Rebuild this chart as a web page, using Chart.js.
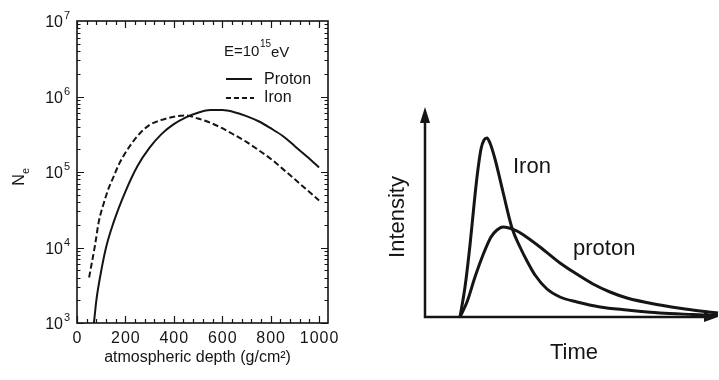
<!DOCTYPE html>
<html>
<head>
<meta charset="utf-8">
<script src="https://cdn.jsdelivr.net/npm/chart.js@4.4.1/dist/chart.umd.min.js"></script>
<style>
  html, body { margin: 0; padding: 0; background: #fff; }
  body { width: 719px; height: 380px; position: relative; overflow: hidden; }
  .box { position: absolute; top: 0; height: 380px; }
  #left { left: 0; width: 360px; }
  #right { left: 360px; width: 359px; }
</style>
</head>
<body>
<div class="box" id="left"><canvas id="depthChart"></canvas></div>
<div class="box" id="right"><canvas id="pulseChart"></canvas></div>
<script>
// left panel: shower size vs atmospheric depth, E = 10^15 eV
const depthProton = [70, 80, 95, 120, 150, 200, 250, 300, 350, 400, 450, 500, 550, 600, 650, 700, 750, 800, 850, 900, 950, 1000];
const neProton = [1e3, 2e3, 4e3, 1e4, 2.1e4, 5.5e4, 1.2e5, 2.1e5, 3.2e5, 4.3e5, 5.3e5, 6.1e5, 6.6e5, 6.6e5, 6.2e5, 5.5e5, 4.7e5, 3.8e5, 3.0e5, 2.2e5, 1.6e5, 1.15e5];
const depthIron = [50, 75, 90, 110, 130, 150, 175, 200, 250, 300, 350, 400, 450, 500, 550, 600, 650, 700, 750, 800, 850, 900, 950, 1000];
const neIron = [4e3, 1.1e4, 2.2e4, 3.8e4, 6e4, 8.5e4, 1.3e5, 1.8e5, 3e5, 4.2e5, 4.9e5, 5.4e5, 5.6e5, 5.1e5, 4.5e5, 3.8e5, 3.1e5, 2.5e5, 1.95e5, 1.5e5, 1.1e5, 8e4, 5.8e4, 4.2e4];
const depthTicks = [0, 200, 400, 600, 800, 1000];
const neExponents = [3, 4, 5, 6, 7];

// right panel: pulse shape sketch (arbitrary units)
const timeIron = [35, 40, 45, 49, 52, 56, 59, 62, 65, 70, 78, 87, 95, 102, 110, 122, 135, 152, 175, 202, 235, 268, 293];
const intensityIron = [0, 30, 72, 112, 140, 168, 177, 179, 174, 158, 125, 89, 70, 56, 42, 28, 20, 15, 10, 7, 4, 2.5, 1.5];
const timeProton = [35, 42, 50, 58, 66, 72, 78, 84, 92, 100, 115, 135, 150, 168, 185, 202, 235, 260, 293];
const intensityProton = [0, 15, 40, 62, 80, 87, 90, 89, 86, 81, 70, 54, 44, 33, 25, 19, 12, 8, 4];

const INK = '#151515';
const FONT = '"Liberation Sans", Arial, Helvetica, sans-serif';

function toPoints(xs, ys) {
  return xs.map((x, i) => ({ x: x, y: ys[i] }));
}

// frame, inward ticks, labels and legend of the left panel
const framePlugin = {
  id: 'frame',
  afterDraw(chart) {
    const ctx = chart.ctx;
    const a = chart.chartArea;
    const xs = chart.scales.x;
    const ys = chart.scales.y;
    ctx.save();
    ctx.strokeStyle = INK;
    ctx.fillStyle = INK;
    ctx.lineWidth = 1.6;
    ctx.strokeRect(a.left, a.top, a.right - a.left, a.bottom - a.top);

    // log ticks on both sides
    ctx.lineWidth = 1.2;
    ctx.beginPath();
    for (let e = 3; e <= 6; e++) {
      for (let m = 1; m <= 9; m++) {
        const py = Math.round(ys.getPixelForValue(m * Math.pow(10, e))) + 0.5;
        const len = m === 1 ? 7 : 3.5;
        ctx.moveTo(a.left, py); ctx.lineTo(a.left + len, py);
        ctx.moveTo(a.right, py); ctx.lineTo(a.right - len, py);
      }
    }
    // depth ticks top and bottom
    for (let v = 0; v <= 1000; v += 40) {
      const px = Math.round(xs.getPixelForValue(v)) + 0.5;
      const len = v % 200 === 0 ? 7 : 4;
      ctx.moveTo(px, a.bottom); ctx.lineTo(px, a.bottom - len);
      ctx.moveTo(px, a.top); ctx.lineTo(px, a.top + len);
    }
    ctx.stroke();

    // tick labels
    ctx.font = '16px ' + FONT;
    ctx.letterSpacing = '1px';
    ctx.textAlign = 'center';
    ctx.textBaseline = 'middle';
    depthTicks.forEach(v => {
      ctx.fillText(String(v), xs.getPixelForValue(v) + 0.5, a.bottom + 16);
    });
    ctx.letterSpacing = '0px';
    neExponents.forEach(e => {
      const py = ys.getPixelForValue(Math.pow(10, e));
      ctx.font = '16px ' + FONT;
      ctx.textAlign = 'right';
      ctx.fillText('10', a.left - 14, py + 2);
      ctx.font = '11px ' + FONT;
      ctx.textAlign = 'left';
      ctx.fillText(String(e), a.left - 13, py - 5);
    });

    // axis titles
    ctx.font = '16px ' + FONT;
    ctx.textAlign = 'center';
    ctx.fillText('atmospheric depth (g/cm²)', (a.left + a.right) / 2 - 5, a.bottom + 35);
    ctx.save();
    ctx.translate(20, 180);
    ctx.rotate(-Math.PI / 2);
    ctx.font = '16px ' + FONT;
    ctx.fillText('N', 0, 0);
    ctx.font = '11px ' + FONT;
    ctx.fillText('e', 9, 6);
    ctx.restore();

    // legend
    ctx.textAlign = 'left';
    ctx.font = '15px ' + FONT;
    ctx.fillText('E=10', 224, 52);
    ctx.font = '10px ' + FONT;
    ctx.fillText('15', 260, 44);
    ctx.font = '15px ' + FONT;
    ctx.fillText('eV', 271, 53);
    ctx.font = '16px ' + FONT;
    ctx.fillText('Proton', 264, 80);
    ctx.fillText('Iron', 264, 98);
    ctx.lineWidth = 2;
    ctx.beginPath();
    ctx.moveTo(226, 79); ctx.lineTo(252, 79);
    ctx.stroke();
    ctx.setLineDash([5, 3]);
    ctx.beginPath();
    ctx.moveTo(226, 98); ctx.lineTo(254, 98);
    ctx.stroke();
    ctx.restore();
  }
};

new Chart(document.getElementById('depthChart'), {
  type: 'line',
  data: {
    datasets: [
      {
        label: 'Proton',
        data: toPoints(depthProton, neProton),
        borderColor: INK,
        borderWidth: 2,
        pointRadius: 0,
        cubicInterpolationMode: 'monotone'
      },
      {
        label: 'Iron',
        data: toPoints(depthIron, neIron),
        borderColor: INK,
        borderWidth: 2,
        borderDash: [6, 3],
        pointRadius: 0,
        cubicInterpolationMode: 'monotone'
      }
    ]
  },
  options: {
    responsive: true,
    maintainAspectRatio: false,
    animation: false,
    layout: { padding: { left: 77, top: 21, right: 32, bottom: 57 } },
    scales: {
      x: { type: 'linear', min: 0, max: 1037, display: false },
      y: { type: 'logarithmic', min: 1e3, max: 1e7, display: false }
    },
    plugins: { legend: { display: false }, tooltip: { enabled: false } }
  },
  plugins: [framePlugin]
});

// arrowed axes and labels of the right panel
const arrowPlugin = {
  id: 'arrows',
  afterDraw(chart) {
    const ctx = chart.ctx;
    const a = chart.chartArea;
    ctx.save();
    ctx.strokeStyle = INK;
    ctx.fillStyle = INK;
    ctx.lineWidth = 2.5;
    ctx.beginPath();
    ctx.moveTo(a.left, a.top + 10);
    ctx.lineTo(a.left, a.bottom);
    ctx.lineTo(a.right - 10, a.bottom);
    ctx.stroke();
    ctx.beginPath();
    ctx.moveTo(a.left, a.top);
    ctx.lineTo(a.left - 5, a.top + 16);
    ctx.lineTo(a.left + 5, a.top + 16);
    ctx.closePath();
    ctx.fill();
    ctx.beginPath();
    ctx.moveTo(a.right, a.bottom);
    ctx.lineTo(a.right - 14, a.bottom - 5);
    ctx.lineTo(a.right - 14, a.bottom + 5);
    ctx.closePath();
    ctx.fill();

    ctx.font = '22px ' + FONT;
    ctx.textBaseline = 'middle';
    ctx.textAlign = 'left';
    ctx.fillText('Iron', 153, 167);
    ctx.fillText('proton', 213, 249);
    ctx.textAlign = 'center';
    ctx.fillText('Time', 214, 353);
    ctx.translate(38, 217);
    ctx.rotate(-Math.PI / 2);
    ctx.fillText('Intensity', 0, 0);
    ctx.restore();
  }
};

new Chart(document.getElementById('pulseChart'), {
  type: 'line',
  data: {
    datasets: [
      {
        label: 'Iron',
        data: toPoints(timeIron, intensityIron),
        borderColor: INK,
        borderWidth: 3,
        pointRadius: 0,
        cubicInterpolationMode: 'monotone',
        clip: 6
      },
      {
        label: 'proton',
        data: toPoints(timeProton, intensityProton),
        borderColor: INK,
        borderWidth: 3,
        pointRadius: 0,
        cubicInterpolationMode: 'monotone',
        clip: 6
      }
    ]
  },
  options: {
    responsive: true,
    maintainAspectRatio: false,
    animation: false,
    layout: { padding: { left: 65, top: 107, right: 1, bottom: 63 } },
    scales: {
      x: { type: 'linear', min: 0, max: 293, display: false },
      y: { type: 'linear', min: 0, max: 210, display: false }
    },
    plugins: { legend: { display: false }, tooltip: { enabled: false } }
  },
  plugins: [arrowPlugin]
});
</script>
</body>
</html>
